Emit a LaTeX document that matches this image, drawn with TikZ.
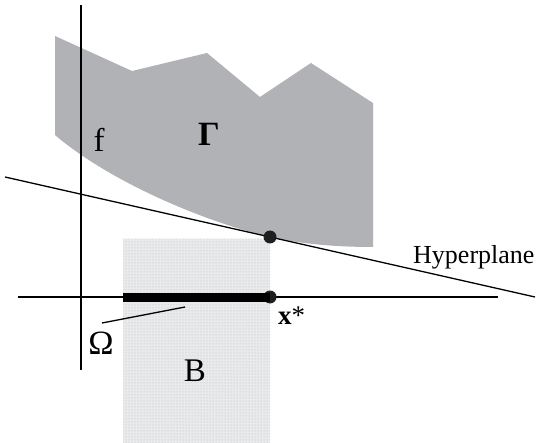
\documentclass[tikz,border=0pt]{standalone}
\usepackage{fontspec}
\setmainfont{Liberation Serif}
\usetikzlibrary{patterns}
\definecolor{gammagray}{RGB}{177,178,181}
\definecolor{bgray}{RGB}{233,234,236}
\begin{document}
\begin{tikzpicture}[x=1pt,y=-1pt,
  axis/.style={line width=1.3pt,line cap=butt},
  dotpt/.style={circle,fill=black!88,inner sep=0pt,minimum size=13pt},
  lbl/.style={inner sep=0pt,anchor=base},
  big/.style={font=\fontsize{33}{38}\selectfont}]
\useasboundingbox (0,0) rectangle (540,443);
% set B
\fill[bgray] (123,239) rectangle (270,443);
\fill[pattern=dots,pattern color=gray!55] (123,239) rectangle (270,443);
% set Gamma
\fill[gammagray] (55,36) -- (132,71) -- (207,53) -- (260,97) -- (311,63) -- (373,103) -- (373,247)
  .. controls (335,247) and (300,243.8) .. (270,237)
  .. controls (205,222) and (110,182) .. (55,135) -- cycle;
% coordinates
\coordinate (vtop) at (81,5);
\coordinate (vbot) at (81,370);
\coordinate (hl) at (18,297);
\coordinate (hr) at (498,297);
\coordinate (pl) at (5,177);
\coordinate (pr) at (535,297);
\coordinate (segl) at (123,297);
\coordinate (oma) at (102,323);
\coordinate (omb) at (185,307);
% axes
\draw[axis] (vtop) -- (vbot);
\draw[axis] (hl) -- (hr);
% hyperplane
\draw[line width=1.3pt] (pl) -- (pr);
% Omega
\node[dotpt] (xstar) at (270,297) {};
\node[dotpt] (tang) at (270,237) {};
\draw[line width=9pt] (segl) -- (xstar.center);
\draw[line width=1.3pt] (oma) -- (omb);
% labels
\node[lbl,big] (f) at (99,152) {f};
\node[lbl,font=\fontsize{34}{40}\selectfont\bfseries] (Gam) at (209,146) {Γ};
\node[lbl,font=\fontsize{34}{40}\selectfont] (Om) at (101,354) {Ω};
\node[lbl,big] (B) at (195,381) {B};
\node[lbl,anchor=base west,font=\fontsize{27}{32}\selectfont] (xs) at (278,324) {\textbf{x}*};
\node[lbl,anchor=base west,font=\fontsize{26}{31}\selectfont] (hyp) at (413,264) {Hyperplane};
\end{tikzpicture}
\end{document}
